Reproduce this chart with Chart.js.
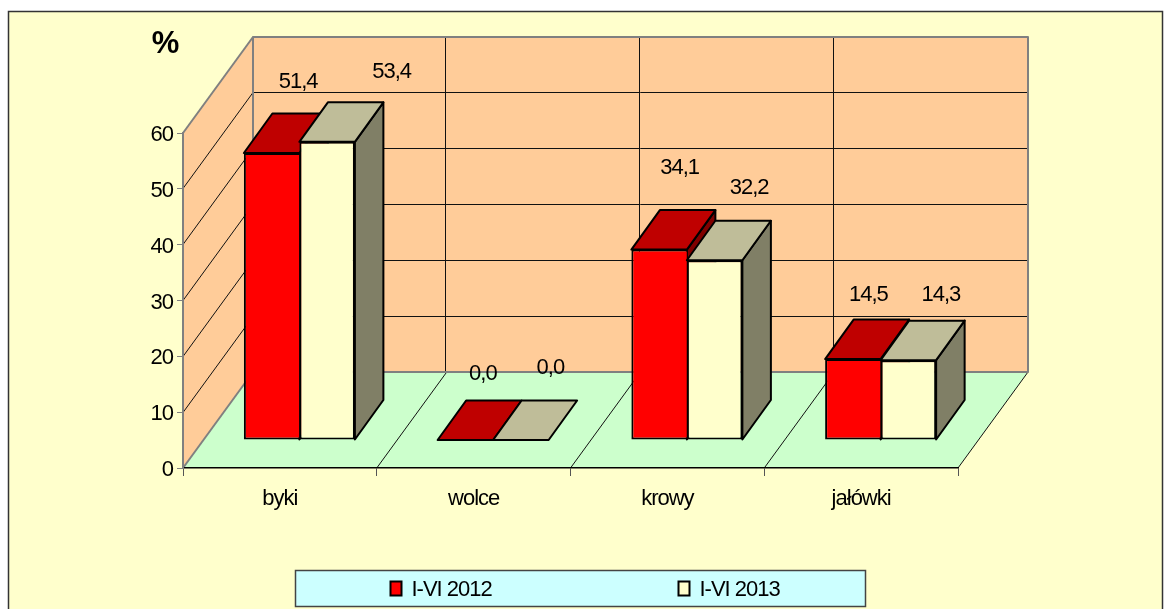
<!DOCTYPE html>
<html>
<head>
<meta charset="utf-8">
<style>html,body{margin:0;padding:0;background:#fff;overflow:hidden}canvas{display:block}</style>
<script src="https://cdn.jsdelivr.net/npm/chart.js@4"></script>
</head>
<body>
<div style="width:1164px;height:609px"><canvas id="c" width="1164" height="609"></canvas></div>
<script>
const categories = ['byki', 'wolce', 'krowy', 'jałówki'];
const seriesNames = ['I-VI 2012', 'I-VI 2013'];
const values2012 = [51.4, 0.0, 34.1, 14.5];
const values2013 = [53.4, 0.0, 32.2, 14.3];
const yTicks = [0, 10, 20, 30, 40, 50, 60];

// Hand-moved data label offsets from each bar's top (style only)
const labelShift2012 = [[46, -99], [37, -94], [40, -110], [35, -92]];
const labelShift2013 = [[84, -98], [49, -100], [54, -100], [52, -93]];

const FONT = '"Liberation Sans", Arial, sans-serif';
const WALL_DX = 70, WALL_DY = 96;      // depth of the floor
const BAR_DX = 19.5, BAR_DY = 28;      // bar front offset from the front edge
const DEPTH_DX = 28.5, DEPTH_DY = 39.5;  // bar depth

const faces = [
  { top: '#BF0000', side: '#800000' },
  { top: '#BFBD99', side: '#807F66' }
];

function poly(ctx, pts, fill, stroke, lw) {
  ctx.beginPath();
  pts.forEach((p, i) => i ? ctx.lineTo(p[0], p[1]) : ctx.moveTo(p[0], p[1]));
  ctx.closePath();
  if (fill) { ctx.fillStyle = fill; ctx.fill(); }
  if (stroke) { ctx.strokeStyle = stroke; ctx.lineWidth = lw; ctx.lineJoin = 'round'; ctx.stroke(); }
}
function line(ctx, x1, y1, x2, y2, color, lw) {
  ctx.beginPath(); ctx.moveTo(x1, y1); ctx.lineTo(x2, y2);
  ctx.strokeStyle = color; ctx.lineWidth = lw; ctx.stroke();
}

const scene3d = {
  id: 'scene3d',
  beforeDraw(chart) {
    const { ctx, chartArea: a, scales: { x, y } } = chart;
    ctx.letterSpacing = '-1px';
    ctx.save();
    ctx.fillStyle = '#FFFFFF'; ctx.fillRect(0, 0, chart.width, chart.height);
    ctx.fillStyle = '#FFFFCC'; ctx.fillRect(8.5, 11.5, 1154, 640);
    ctx.strokeStyle = '#333333'; ctx.lineWidth = 1.5; ctx.strokeRect(8.5, 11.5, 1154, 640);

    const L = a.left, R = a.right, T = a.top, B = a.bottom;
    const dx = WALL_DX, dy = WALL_DY;
    // floor, side wall, back wall
    poly(ctx, [[L, B], [R, B], [R + dx, B - dy], [L + dx, B - dy]], '#CCFFCC');
    poly(ctx, [[L, B], [L, T], [L + dx, T - dy], [L + dx, B - dy]], '#FFCC99');
    poly(ctx, [[L + dx, T - dy], [R + dx, T - dy], [R + dx, B - dy], [L + dx, B - dy]], '#FFCC99');

    // horizontal grid lines on the side and back walls
    yTicks.forEach(v => {
      const py = Math.floor(y.getPixelForValue(v)) + 0.5;
      if (v !== 0 && v !== 60) {
        line(ctx, L, py, L + dx, py - dy, '#111111', 1);
        line(ctx, L + dx, py - dy, R + dx, py - dy, '#111111', 1);
      }
    });
    // vertical grid lines on the floor and back wall, at category boundaries
    for (let i = 1; i <= categories.length; i++) {
      const px = L + (R - L) * i / categories.length;
      line(ctx, px, B, px + dx, B - dy, '#111111', 1);
      if (i < categories.length) line(ctx, Math.floor(px + dx) - 0.5, B - dy, Math.floor(px + dx) - 0.5, T - dy, '#111111', 1);
    }
    // grey wall edges
    poly(ctx, [[L + dx, T - dy], [R + dx, T - dy], [R + dx, B - dy], [L + dx, B - dy]], null, '#808080', 2);
    line(ctx, L, T, L + dx, T - dy, '#808080', 2);
    line(ctx, L, B, L + dx, B - dy, '#808080', 2);
    ctx.restore();
  },
  beforeDatasetDraw() { return false; },
  beforeDatasetsDraw(chart) {
    const ctx = chart.ctx;
    chart.data.datasets.forEach((ds, i) => {
      const meta = chart.getDatasetMeta(i);
      ctx.save();
      meta.data.forEach(el => {
        const p = el.getProps(['x', 'y', 'base', 'width'], true);
        const l = p.x - p.width / 2 + BAR_DX, r = p.x + p.width / 2 + BAR_DX;
        const t = p.y - BAR_DY, b = p.base - BAR_DY;
        if (b - t > 0.5) {
          poly(ctx, [[r, t], [r + DEPTH_DX, t - DEPTH_DY], [r + DEPTH_DX, b - DEPTH_DY], [r, b]], faces[i].side, '#000', 2);
        }
        poly(ctx, [[l, t], [r, t], [r + DEPTH_DX, t - DEPTH_DY], [l + DEPTH_DX, t - DEPTH_DY]], faces[i].top, '#000', 2);
      });
      ctx.translate(BAR_DX, -BAR_DY);
      meta.controller.draw();
      ctx.restore();
    });
  },
  afterDatasetsDraw(chart) {
    const ctx = chart.ctx;
    ctx.save();
    ctx.fillStyle = '#000';
    ctx.font = '22px ' + FONT;
    ctx.textAlign = 'center';
    ctx.textBaseline = 'middle';
    const shifts = [labelShift2012, labelShift2013];
    chart.data.datasets.forEach((ds, i) => {
      chart.getDatasetMeta(i).data.forEach((el, j) => {
        const p = el.getProps(['x', 'y'], true);
        const text = ds.data[j].toFixed(1).replace('.', ',');
        ctx.fillText(text, p.x + shifts[i][j][0], p.y + shifts[i][j][1]);
      });
    });
    // axis unit
    ctx.font = 'bold 31px ' + FONT;
    ctx.fillText('%', 165, 44);
    // legend
    ctx.fillStyle = '#CCFFFF'; ctx.fillRect(295.5, 570.5, 570, 36);
    ctx.strokeStyle = '#444444'; ctx.lineWidth = 1.5; ctx.strokeRect(295.5, 570.5, 570, 36);
    const itemX = [390.5, 678.5];
    ctx.font = '22px ' + FONT;
    ctx.textAlign = 'left';
    chart.data.datasets.forEach((ds, i) => {
      ctx.fillStyle = ds.backgroundColor;
      ctx.fillRect(itemX[i], 581.5, 11, 14);
      ctx.strokeStyle = '#000'; ctx.lineWidth = 2; ctx.strokeRect(itemX[i], 581.5, 11, 14);
      ctx.fillStyle = '#000';
      ctx.fillText(ds.label, itemX[i] + 21, 589.5);
    });
    ctx.restore();
  }
};

new Chart(document.getElementById('c'), {
  type: 'bar',
  data: {
    labels: categories,
    datasets: [
      { label: seriesNames[0], data: values2012, backgroundColor: '#FF0000', borderColor: '#000', borderWidth: 2, borderSkipped: 'right', categoryPercentage: 0.573, barPercentage: 1 },
      { label: seriesNames[1], data: values2013, backgroundColor: '#FFFFCC', borderColor: '#000', borderWidth: 2, borderSkipped: false, categoryPercentage: 0.573, barPercentage: 1 }
    ]
  },
  plugins: [scene3d],
  options: {
    responsive: false,
    animation: false,
    layout: { padding: { left: 100, right: 206, top: 133, bottom: 81 } },
    plugins: { legend: { display: false }, title: { display: false }, tooltip: { enabled: false } },
    scales: {
      x: {
        afterFit(s) { s.height = 60; s.paddingLeft = s.paddingRight = s.paddingTop = s.paddingBottom = 0; },
        grid: { drawOnChartArea: false, drawTicks: true, tickLength: 8, color: '#555555', offset: true },
        border: { display: true, color: '#000000', width: 1.5 },
        ticks: { color: '#000', font: { family: FONT, size: 22 }, padding: 10, maxRotation: 0 }
      },
      y: {
        min: 0, max: 60,
        afterFit(s) { s.width = 83; s.paddingLeft = s.paddingRight = s.paddingTop = s.paddingBottom = 0; },
        afterBuildTicks(s) { s.ticks = yTicks.map(v => ({ value: v })); },
        grid: { drawOnChartArea: false, drawTicks: true, tickLength: 6, color: '#808080' },
        border: { display: true, color: '#808080', width: 2 },
        ticks: { color: '#000', font: { family: FONT, size: 22 }, padding: 4, labelOffset: 2 }
      }
    }
  }
});
</script>
</body>
</html>
